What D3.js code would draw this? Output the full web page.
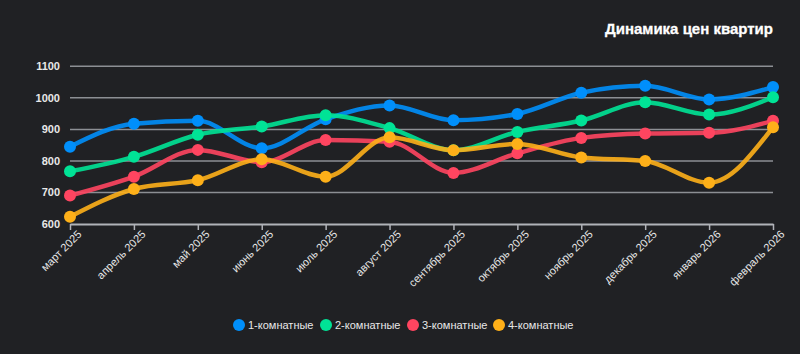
<!DOCTYPE html>
<html><head><meta charset="utf-8">
<script src="https://cdn.jsdelivr.net/npm/d3@7/dist/d3.min.js"></script>
<style>
html,body{margin:0;padding:0;background:#202124;}
svg{display:block;font-family:"Liberation Sans",Arial,Helvetica,sans-serif;}
</style></head><body>
<svg id="c" width="800" height="354"></svg>
<script>
const categories = ["март 2025","апрель 2025","май 2025","июнь 2025","июль 2025","август 2025","сентябрь 2025","октябрь 2025","ноябрь 2025","декабрь 2025","январь 2026","февраль 2026"];
const seriesNames = ["1-комнатные","2-комнатные","3-комнатные","4-комнатные"];
const room1 = [845,918,927,840,932,976,929,949,1016,1038,995,1034];
const room2 = [767,813,883,909,945,904,834,892,928,986,947,1002];
const room3 = [690,750,835,796,866,861,762,824,873,887,889,927];
const room4 = [623,711,739,805,750,875,834,854,811,800,731,907];
const yTicks = [600,700,800,900,1000,1100];
const colors = ["#008FFB","#00E396","#FF4560","#FEB019"];
const title = "Динамика цен квартир";

const svg = d3.select("#c");
const x = d3.scalePoint().domain(categories).range([70,773]);
const y = d3.scaleLinear().domain([600,1100]).range([224,66.3]);

svg.append("rect").attr("width",800).attr("height",354).attr("fill","#202124");

svg.append("text").attr("x",773).attr("y",34).attr("text-anchor","end")
  .attr("fill","#ffffff").attr("font-size",15).attr("font-weight","bold")
  .attr("stroke","#ffffff").attr("stroke-width",0.3).text(title);

// grid
svg.append("g").selectAll("line").data(yTicks.filter(d=>d>600)).join("line")
  .attr("x1",70).attr("x2",773).attr("y1",d=>y(d)).attr("y2",d=>y(d))
  .attr("stroke","#8c8f94").attr("stroke-width",1.5);

// y labels
svg.append("g").selectAll("text").data(yTicks).join("text")
  .attr("x",60).attr("y",d=>y(d)).attr("dy","0.35em").attr("text-anchor","end")
  .attr("fill","#e8e8e8").attr("font-size",11).attr("font-weight","bold").text(d=>d);

// x axis
const xa = svg.append("g").attr("transform","translate(0,224)")
  .call(d3.axisBottom(x).tickSize(6).tickSizeOuter(0));
xa.select(".domain").attr("stroke","#b0b3b8").attr("stroke-width",2);
xa.selectAll(".tick line").attr("stroke","#b0b3b8").attr("stroke-width",1.5);
xa.selectAll(".tick text").attr("fill","#e8e8e8").attr("font-size",11)
  .attr("font-family","Liberation Sans, Arial, sans-serif")
  .attr("text-anchor","end").attr("transform","translate(3,2) rotate(-45)")
  .attr("dy","0.6em").attr("y",6).attr("x",0);

const data = [room1,room2,room3,room4];
const line = d3.line().x((d,i)=>x(categories[i])).y(d=>y(d)).curve(d3.curveMonotoneX);
data.forEach((s,k)=>{
  const g = svg.append("g");
  g.append("path").datum(s).attr("d",line).attr("fill","none")
    .attr("stroke",colors[k]).attr("stroke-width",4.5).attr("stroke-opacity",0.9)
    .attr("stroke-linecap","round");
  g.selectAll("circle").data(s).join("circle")
    .attr("cx",(d,i)=>x(categories[i])).attr("cy",d=>y(d)).attr("r",6)
    .attr("fill",colors[k]);
});

// legend
const legendX = [239,326,413,499];
const lg = svg.append("g");
seriesNames.forEach((n,k)=>{
  lg.append("circle").attr("cx",legendX[k]).attr("cy",325).attr("r",6).attr("fill",colors[k]);
  lg.append("text").attr("x",legendX[k]+9).attr("y",325).attr("dy","0.35em")
    .attr("fill","#e8e8e8").attr("font-size",11).text(n);
});
</script></body></html>
